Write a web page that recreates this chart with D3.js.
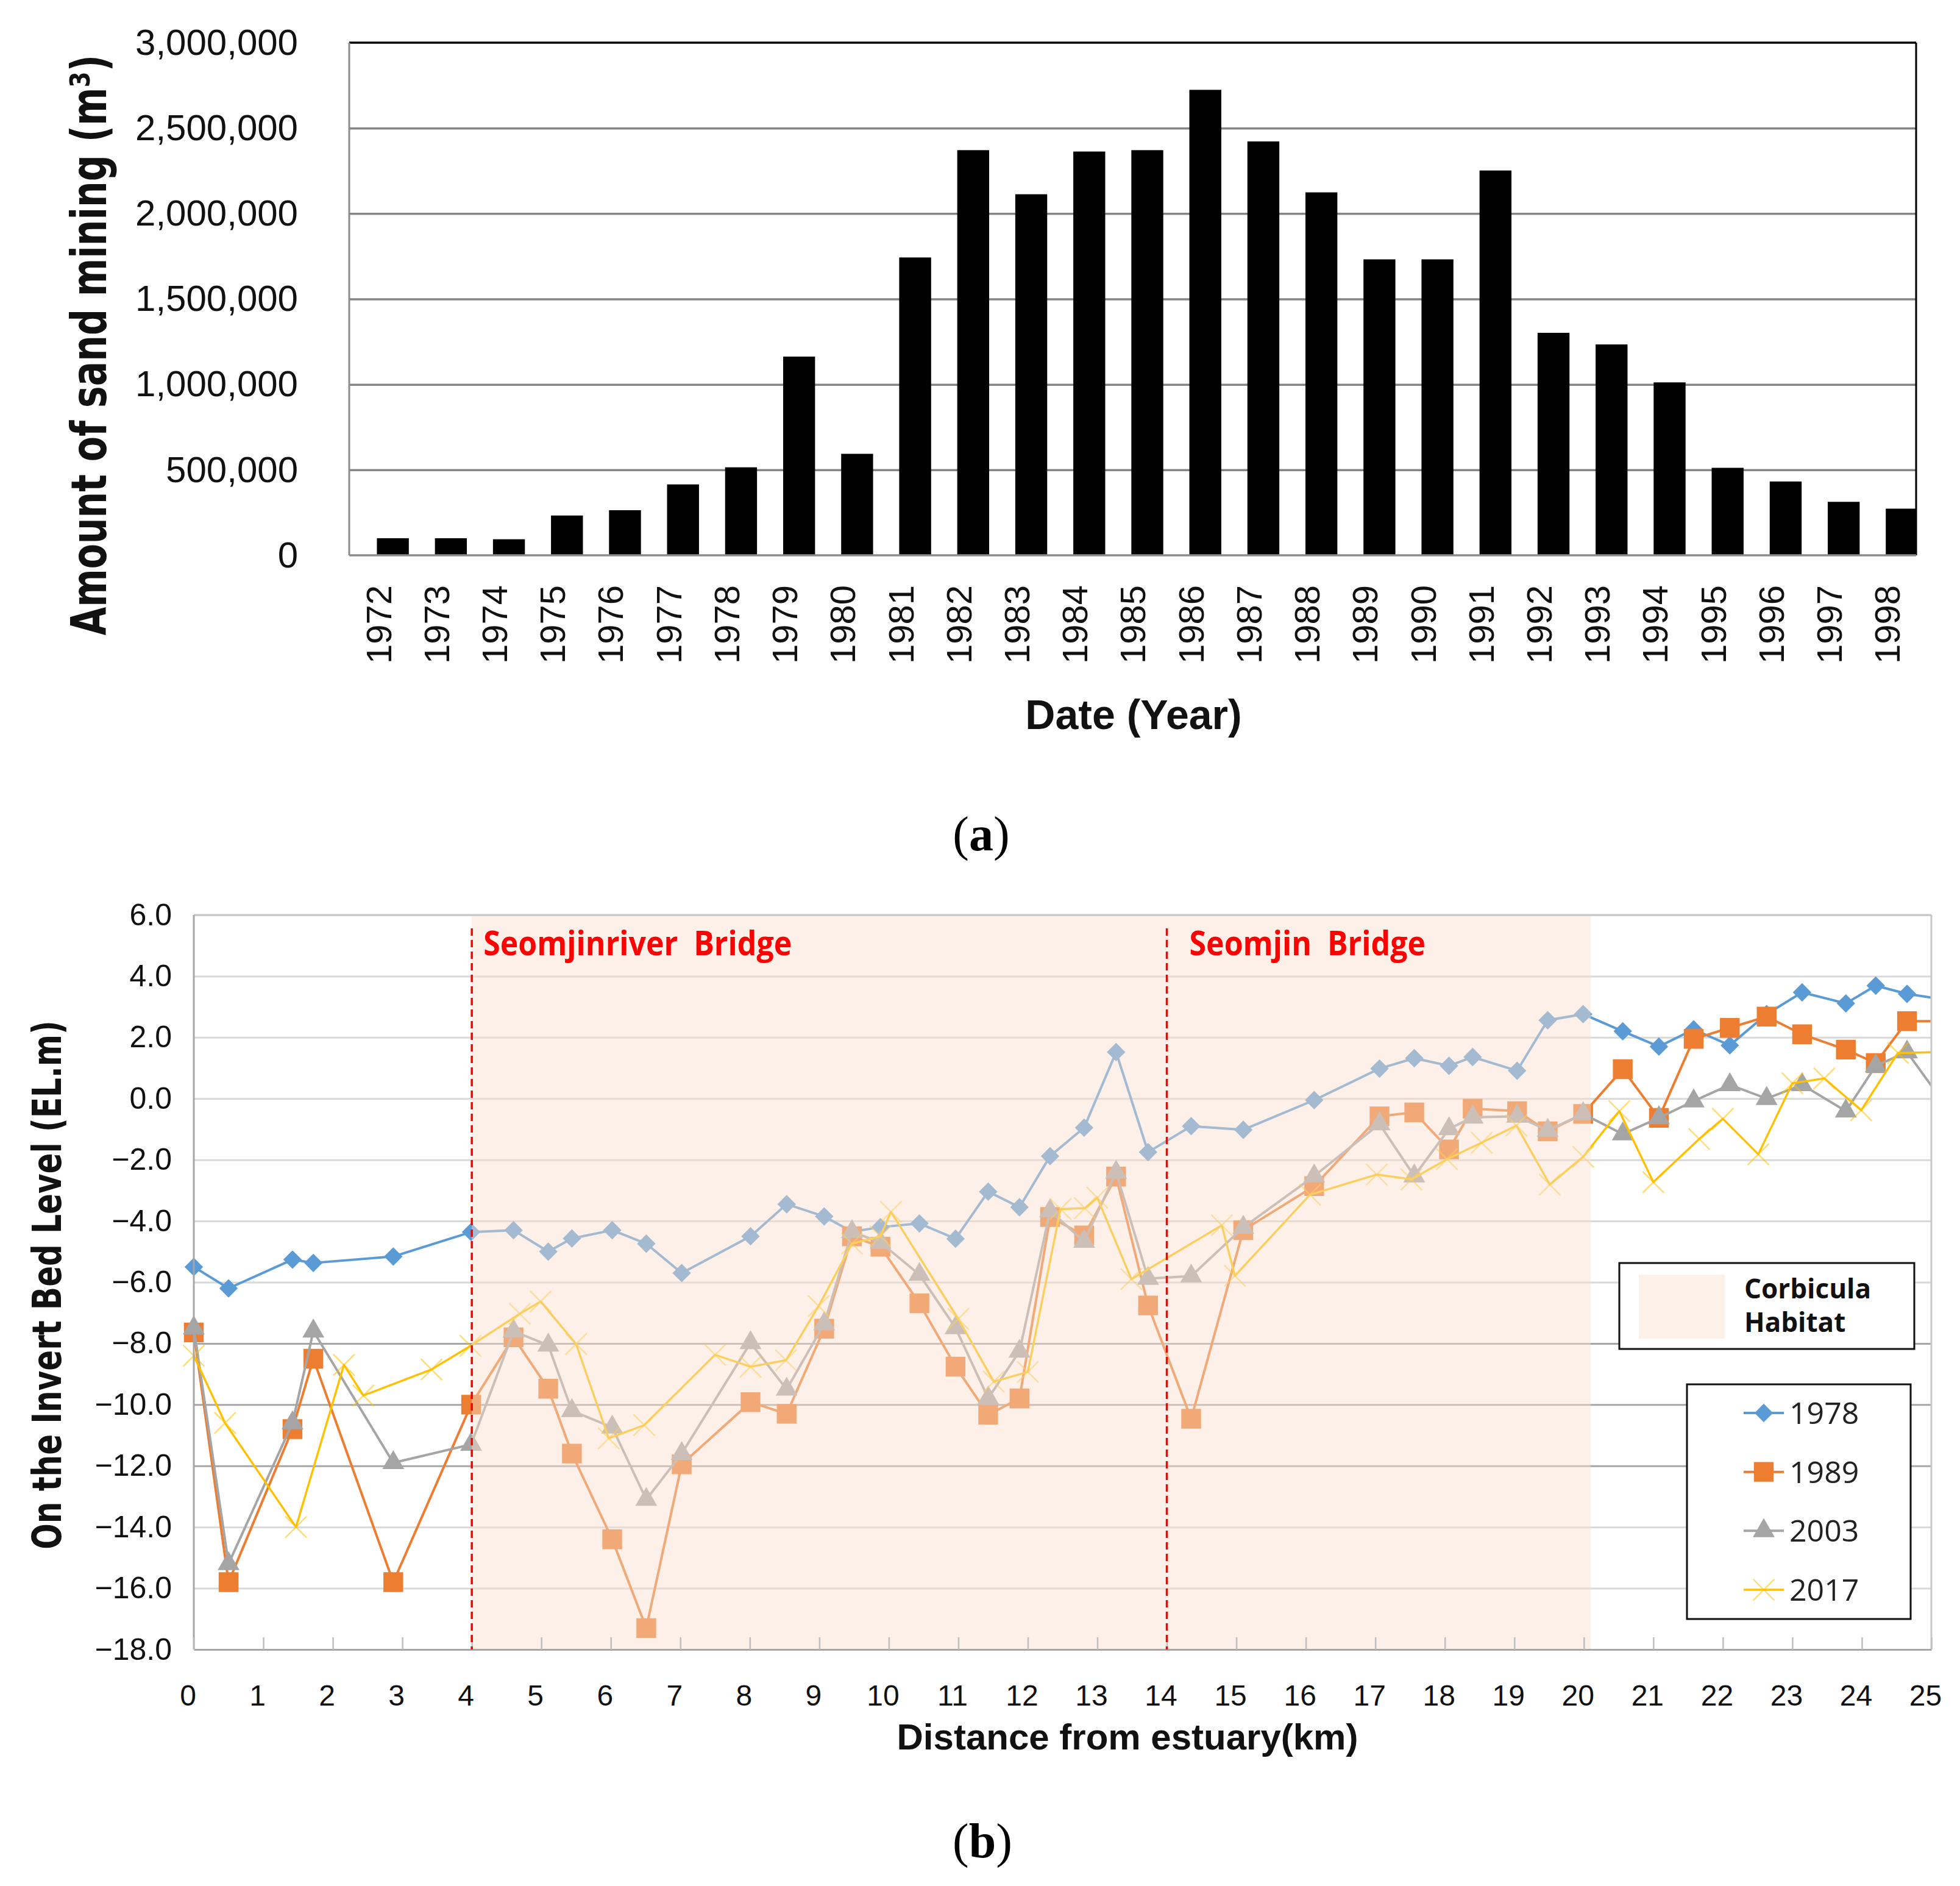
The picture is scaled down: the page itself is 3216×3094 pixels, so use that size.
<!DOCTYPE html>
<html>
<head>
<meta charset="utf-8">
<title>Sand mining and invert bed level</title>
<script src="https://cdn.jsdelivr.net/npm/d3@7/dist/d3.min.js"></script>
<style>
  body { margin: 0; background: #fff; }
  svg { display: block; }
  text { white-space: pre; }
</style>
</head>
<body>
<svg id="figure" width="3216" height="3094"></svg>
<script>
// (a) amount of sand mining per year (m3)
const years = ['1972', '1973', '1974', '1975', '1976', '1977', '1978', '1979', '1980',
  '1981', '1982', '1983', '1984', '1985', '1986', '1987', '1988', '1989', '1990',
  '1991', '1992', '1993', '1994', '1995', '1996', '1997', '1998'];
const sandMining = [100000, 100000, 94000, 233000, 264000, 415000, 515000, 1163000, 594000,
  1743000, 2371000, 2113000, 2363000, 2371000, 2724000, 2422000, 2124000, 1732000, 1732000,
  2252000, 1302000, 1234000, 1012000, 512000, 432000, 313000, 273000];
const sandTicks = [0, 500000, 1000000, 1500000, 2000000, 2500000, 3000000];

// (b) invert bed level (EL.m) against distance from the estuary (km)
const stations = [0, 0.5, 1.42, 1.72, 2.87, 3.99, 4.6, 5.1, 5.44, 6.02, 6.51, 7.02, 8.01,
  8.53, 9.07, 9.47, 9.88, 10.44, 10.96, 11.43, 11.88, 12.32, 12.81, 13.27, 13.73, 14.35,
  15.1, 16.12, 17.06, 17.56, 18.06, 18.4, 19.04, 19.48, 19.99, 20.56, 21.08, 21.58, 22.1,
  22.63, 23.14, 23.77, 24.2, 24.65, 25.15];
const bed1978 = [-5.5, -6.2, -5.26, -5.37, -5.16, -4.36, -4.3, -5.0, -4.57, -4.3, -4.74,
  -5.7, -4.5, -3.45, -3.85, -4.35, -4.2, -4.08, -4.58, -3.04, -3.55, -1.88, -0.95, 1.52,
  -1.75, -0.9, -1.02, -0.05, 0.98, 1.32, 1.07, 1.36, 0.91, 2.56, 2.76, 2.2, 1.7, 2.26,
  1.74, 2.76, 3.47, 3.11, 3.69, 3.42, 3.25];
const bed1989 = [-7.64, -15.8, -10.8, -8.5, -15.8, -10.0, -7.8, -9.48, -11.6, -14.4, -17.3,
  -11.95, -9.92, -10.3, -7.52, -4.5, -4.84, -6.69, -8.76, -10.33, -9.8, -3.87, -4.47,
  -2.55, -6.76, -10.46, -4.3, -2.86, -0.58, -0.45, -1.66, -0.33, -0.41, -1.07, -0.5, 0.96,
  -0.63, 1.95, 2.31, 2.68, 2.1, 1.6, 1.16, 2.53, 2.53];
const bed2003 = [-7.5, -15.2, -10.6, -7.6, -11.9, -11.3, -7.6, -8.06, -10.2, -10.74, -13.1,
  -11.6, -7.98, -9.5, -7.36, -4.35, -4.7, -5.75, -7.49, -9.79, -8.26, -3.67, -4.67, -2.41,
  -5.88, -5.8, -4.21, -2.53, -0.83, -2.53, -0.99, -0.61, -0.58, -1.04, -0.5, -1.16, -0.63,
  -0.08, 0.45, 0.0, 0.45, -0.41, 1.07, 1.52, -0.05];
const stations2017 = [0, 0.45, 1.47, 2.16, 2.44, 3.42, 3.98, 4.69, 4.99, 5.5, 5.97, 6.48,
  7.5, 8.01, 8.52, 8.99, 9.47, 9.88, 10.03, 11.0, 11.51, 12.0, 12.47, 12.82, 13.0, 13.49,
  14.79, 14.98, 16.06, 17.02, 17.52, 18.03, 18.53, 19.03, 19.51, 19.99, 20.51, 21.0, 21.66,
  22.0, 22.51, 23.0, 23.46, 23.99, 24.52, 25.15];
const bed2017 = [-8.4, -10.6, -14.0, -8.7, -9.7, -8.85, -8.08, -7.03, -6.63, -8.02, -11.1,
  -10.67, -8.37, -8.76, -8.55, -6.78, -4.74, -4.5, -3.7, -7.2, -9.25, -8.93, -3.61, -3.58,
  -3.24, -5.9, -4.14, -5.79, -3.14, -2.48, -2.64, -1.98, -1.44, -0.88, -2.81, -1.9, -0.41,
  -2.73, -1.32, -0.66, -1.82, 0.5, 0.66, -0.38, 1.49, 1.52];
const surveyYears = ['1978', '1989', '2003', '2017'];
const bedTicks = [6, 4, 2, 0, -2, -4, -6, -8, -10, -12, -14, -16, -18];
const kmTicks = [0, 1, 2, 3, 4, 5, 6, 7, 8, 9, 10, 11, 12, 13, 14, 15, 16, 17, 18, 19, 20,
  21, 22, 23, 24, 25];
const bridgeNames = ['Seomjinriver  Bridge', 'Seomjin  Bridge'];
const bridgeKm = [4, 14];
const habitatKm = [4, 20.1];
const habitatLabel = ['Corbicula', 'Habitat'];

const svg = d3.select('#figure');
svg.append('rect').attr('width', 3216).attr('height', 3094).attr('fill', '#fff');

const SANS = "'Liberation Sans', Arial, sans-serif";
const WIDE = "'DejaVu Sans', Verdana, sans-serif";
const OPEN = "'Open Sans', 'Liberation Sans', sans-serif";
const SERIF = "'Liberation Serif', 'Times New Roman', serif";

/* ---------------- (a) bar chart ---------------- */
const boxA = { left: 573, right: 3144, top: 70, bottom: 911 };

const x = d3.scaleBand()
  .domain(years)
  .range([boxA.left, boxA.right])
  .paddingInner(0.45)
  .paddingOuter(0.225);
const y = d3.scaleLinear().domain([0, 3000000]).range([boxA.bottom, boxA.top]);

svg.append('defs').append('clipPath').attr('id', 'clip-a')
  .append('rect')
  .attr('x', 0).attr('y', 0)
  .attr('width', boxA.right).attr('height', 3094);

// gridlines
svg.append('g')
  .attr('transform', `translate(${boxA.left},0)`)
  .call(d3.axisLeft(y)
    .tickValues(sandTicks.slice(1, -1))
    .tickSize(-(boxA.right - boxA.left))
    .tickFormat(''))
  .call(g => g.select('.domain').remove())
  .call(g => g.selectAll('line').attr('stroke', '#858585').attr('stroke-width', 3.5));

// bars sit a little right of the category centre, as in the original
const barShift = 24;
svg.append('g')
  .attr('clip-path', 'url(#clip-a)')
  .selectAll('rect')
  .data(years)
  .join('rect')
  .attr('x', d => x(d) + barShift)
  .attr('y', (d, i) => y(sandMining[i]))
  .attr('width', x.bandwidth())
  .attr('height', (d, i) => y(0) - y(sandMining[i]))
  .attr('fill', '#000');

// frame
const frameA = svg.append('g').attr('fill', 'none');
frameA.append('line')
  .attr('x1', boxA.left).attr('x2', boxA.right)
  .attr('y1', y(3000000)).attr('y2', y(3000000))
  .attr('stroke', '#000').attr('stroke-width', 3.5);
frameA.append('line')
  .attr('x1', boxA.right).attr('x2', boxA.right)
  .attr('y1', boxA.top).attr('y2', boxA.bottom)
  .attr('stroke', '#000').attr('stroke-width', 3);
frameA.append('line')
  .attr('x1', boxA.left).attr('x2', boxA.left)
  .attr('y1', boxA.top).attr('y2', boxA.bottom)
  .attr('stroke', '#8c8c8c').attr('stroke-width', 3);
frameA.append('line')
  .attr('x1', boxA.left).attr('x2', boxA.right)
  .attr('y1', y(0)).attr('y2', y(0))
  .attr('stroke', '#8c8c8c').attr('stroke-width', 3.5);

// y tick labels
svg.append('g')
  .attr('transform', `translate(${boxA.left},0)`)
  .call(d3.axisLeft(y)
    .tickValues(sandTicks)
    .tickFormat(d3.format(','))
    .tickSize(0)
    .tickPadding(84))
  .call(g => g.select('.domain').remove())
  .call(g => g.selectAll('text')
    .attr('font-family', SANS)
    .attr('font-size', 60)
    .attr('fill', '#111'));

// x tick labels, vertical
svg.append('g')
  .attr('transform', `translate(0,960)`)
  .call(d3.axisBottom(x).tickSize(0))
  .call(g => g.select('.domain').remove())
  .call(g => g.selectAll('text')
    .attr('font-family', SANS)
    .attr('font-size', 58)
    .attr('fill', '#111')
    .attr('text-anchor', 'end')
    .attr('x', 0)
    .attr('y', 0)
    .attr('dy', '0.36em')
    .attr('transform', 'rotate(-90)'));

svg.append('text')
  .attr('transform', 'translate(174,566) rotate(-90) scale(1,1.35)')
  .attr('text-anchor', 'middle')
  .attr('font-family', WIDE)
  .attr('font-weight', 'bold')
  .attr('font-size', 60)
  .attr('fill', '#111')
  .text('Amount of sand mining (m³)');

svg.append('text')
  .attr('x', 1860).attr('y', 1196)
  .attr('text-anchor', 'middle')
  .attr('font-family', SANS)
  .attr('font-weight', 'bold')
  .attr('font-size', 68)
  .attr('fill', '#111')
  .text('Date (Year)');

const panelA = svg.append('text')
  .attr('x', 1610).attr('y', 1395)
  .attr('text-anchor', 'middle')
  .attr('font-family', SERIF)
  .attr('font-size', 80)
  .attr('fill', '#000');
panelA.append('tspan').text('(');
panelA.append('tspan').attr('font-weight', 'bold').text('a');
panelA.append('tspan').text(')');

/* ---------------- (b) bed level profile ---------------- */
const boxB = { left: 318, right: 3169, top: 1501, bottom: 2706 };

const xb = d3.scaleLinear().domain([0, 25]).range([boxB.left, boxB.right]);
const yb = d3.scaleLinear().domain([-18, 6]).range([boxB.bottom, boxB.top]);

svg.select('defs').append('clipPath').attr('id', 'clip-b')
  .append('rect')
  .attr('x', 0).attr('y', 0)
  .attr('width', boxB.right).attr('height', 3094);

const darkGrid = [-8, -10, -12];
svg.append('g')
  .attr('transform', `translate(${boxB.left},0)`)
  .call(d3.axisLeft(yb)
    .tickValues(bedTicks)
    .tickSize(-(boxB.right - boxB.left))
    .tickFormat(''))
  .call(g => g.select('.domain').remove())
  .call(g => g.selectAll('.tick line')
    .attr('stroke', d => darkGrid.includes(d) ? '#a6a6a6' : '#d9d9d9')
    .attr('stroke-width', 3));

const palette = ['#5b9bd5', '#ed7d31', '#a5a5a5', '#ffc000'];
const markers = ['diamond', 'square', 'triangle', 'cross'];

const crossType = d3.symbolTimes || d3.symbolX;
const markerPath = {
  diamond: d3.symbol(d3.symbolSquare, 460)(),
  square: d3.symbol(d3.symbolSquare, 1050)(),
  triangle: d3.symbol(d3.symbolTriangle, 560)(),
  cross: crossType ? d3.symbol(crossType, 800)() : 'M-17,-17L17,17M-17,17L17,-17',
};

const series = [
  d3.zip(stations, bed1978),
  d3.zip(stations, bed1989),
  d3.zip(stations, bed2003),
  d3.zip(stations2017, bed2017),
];

const line = d3.line()
  .x(d => xb(d[0]))
  .y(d => yb(d[1]));

const drawMarker = function (sel, kind, color) {
  sel.attr('d', markerPath[kind]);
  if (kind === 'cross') {
    sel.attr('fill', 'none')
      .attr('stroke', color)
      .attr('stroke-width', 2.4)
      .attr('stroke-opacity', 0.55);
  } else {
    sel.attr('fill', color).attr('stroke', 'none');
  }
};

const plotB = svg.append('g').attr('clip-path', 'url(#clip-b)');
series.forEach((pts, i) => {
  const g = plotB.append('g').attr('class', `series-${surveyYears[i]}`);
  g.append('path')
    .datum(pts)
    .attr('d', line)
    .attr('fill', 'none')
    .attr('stroke', palette[i])
    .attr('stroke-width', i === 3 ? 3.4 : 4)
    .attr('stroke-linejoin', 'round');
  g.selectAll('path.marker')
    .data(pts)
    .join('path')
    .attr('class', 'marker')
    .attr('transform', d => `translate(${xb(d[0])},${yb(d[1])})${markers[i] === 'diamond' ? ' rotate(45)' : ''}`)
    .call(drawMarker, markers[i], palette[i]);
});

// corbicula habitat: a pale wash laid over the survey lines
const habitatFill = 'rgb(248,222,205)';
const habitatOpacity = 0.46;
svg.append('rect')
  .attr('x', xb(habitatKm[0]))
  .attr('y', boxB.top)
  .attr('width', xb(habitatKm[1]) - xb(habitatKm[0]))
  .attr('height', boxB.bottom - boxB.top)
  .attr('fill', habitatFill)
  .attr('fill-opacity', habitatOpacity);

// frame and ticks
const frameB = svg.append('g');
frameB.append('line')
  .attr('x1', boxB.left).attr('x2', boxB.right)
  .attr('y1', boxB.top).attr('y2', boxB.top)
  .attr('stroke', '#c8c8c8').attr('stroke-width', 3);
frameB.append('line')
  .attr('x1', boxB.right).attr('x2', boxB.right)
  .attr('y1', boxB.top).attr('y2', boxB.bottom)
  .attr('stroke', '#c8c8c8').attr('stroke-width', 3);
frameB.append('line')
  .attr('x1', boxB.left).attr('x2', boxB.left)
  .attr('y1', boxB.top).attr('y2', boxB.bottom)
  .attr('stroke', '#a6a6a6').attr('stroke-width', 3);

svg.append('g')
  .attr('transform', `translate(0,${boxB.bottom})`)
  .call(d3.axisBottom(xb)
    .tickValues(kmTicks)
    .tickSizeInner(-20)
    .tickSizeOuter(0)
    .tickFormat(''))
  .call(g => g.select('.domain').attr('stroke', '#a6a6a6').attr('stroke-width', 3))
  .call(g => g.selectAll('.tick line').attr('stroke', '#bfbfbf').attr('stroke-width', 2.5));

svg.append('g')
  .attr('transform', `translate(0,${boxB.bottom})`)
  .call(d3.axisBottom(xb)
    .tickValues(kmTicks)
    .tickSize(0)
    .tickPadding(58)
    .tickFormat(d3.format('d')))
  .call(g => g.select('.domain').remove())
  .call(g => g.selectAll('text')
    .attr('font-family', SANS)
    .attr('font-size', 48)
    .attr('fill', '#111')
    .attr('dx', -10));

svg.append('g')
  .attr('transform', `translate(${boxB.left},0)`)
  .call(d3.axisLeft(yb)
    .tickValues(bedTicks)
    .tickFormat(d3.format('.1f'))
    .tickSize(0)
    .tickPadding(36))
  .call(g => g.select('.domain').remove())
  .call(g => g.selectAll('text')
    .attr('font-family', SANS)
    .attr('font-size', 50)
    .attr('fill', '#111'));

// bridges
bridgeKm.forEach((km, i) => {
  svg.append('line')
    .attr('x1', xb(km)).attr('x2', xb(km))
    .attr('y1', yb(6) + 22).attr('y2', boxB.bottom)
    .attr('stroke', '#ff0000')
    .attr('stroke-width', 3.5)
    .attr('stroke-dasharray', '12 7');
  svg.append('text')
    .attr('transform', `translate(${xb(km) + (i === 0 ? 19 : 37)},1567) scale(1,1.12)`)
    .attr('font-family', OPEN)
    .attr('font-weight', 'bold')
    .attr('font-size', 50)
    .attr('fill', '#ff0000')
    .text(bridgeNames[i]);
});

svg.append('text')
  .attr('transform', 'translate(100,2108) rotate(-90) scale(1,1.3)')
  .attr('text-anchor', 'middle')
  .attr('font-family', WIDE)
  .attr('font-weight', 'bold')
  .attr('font-size', 50)
  .attr('fill', '#111')
  .text('On the Invert Bed Level (EL.m)');

svg.append('text')
  .attr('x', 1850).attr('y', 2870)
  .attr('text-anchor', 'middle')
  .attr('font-family', SANS)
  .attr('font-weight', 'bold')
  .attr('font-size', 60)
  .attr('fill', '#111')
  .text('Distance from estuary(km)');

// habitat legend
const habLegend = svg.append('g');
habLegend.append('rect')
  .attr('x', 2657).attr('y', 2072)
  .attr('width', 484).attr('height', 141)
  .attr('fill', '#fff')
  .attr('stroke', '#111').attr('stroke-width', 3);
habLegend.append('rect')
  .attr('x', 2689).attr('y', 2091)
  .attr('width', 141).attr('height', 105)
  .attr('fill', habitatFill)
  .attr('fill-opacity', habitatOpacity);
habLegend.selectAll('text.hab')
  .data(habitatLabel)
  .join('text')
  .attr('class', 'hab')
  .attr('x', 2862)
  .attr('y', (d, i) => 2130 + i * 55)
  .attr('font-family', OPEN)
  .attr('font-weight', 'bold')
  .attr('font-size', 44)
  .attr('fill', '#111')
  .text(d => d);

// series legend
const legend = svg.append('g');
legend.append('rect')
  .attr('x', 2768).attr('y', 2271)
  .attr('width', 367).attr('height', 385)
  .attr('fill', '#fff')
  .attr('stroke', '#111').attr('stroke-width', 3);
const rowY = d3.scalePoint().domain(surveyYears).range([2318, 2608]);
surveyYears.forEach((name, i) => {
  const ry = rowY(name);
  legend.append('line')
    .attr('x1', 2861).attr('x2', 2927)
    .attr('y1', ry).attr('y2', ry)
    .attr('stroke', palette[i])
    .attr('stroke-width', i === 3 ? 3.4 : 4);
  legend.append('path')
    .attr('transform', `translate(2894,${ry})${markers[i] === 'diamond' ? ' rotate(45)' : ''}`)
    .call(drawMarker, markers[i], palette[i]);
  legend.append('text')
    .attr('x', 2936).attr('y', ry)
    .attr('dy', '0.36em')
    .attr('font-family', OPEN)
    .attr('font-size', 50)
    .attr('fill', '#222')
    .text(name);
});

const panelB = svg.append('text')
  .attr('x', 1612).attr('y', 3047)
  .attr('text-anchor', 'middle')
  .attr('font-family', SERIF)
  .attr('font-size', 80)
  .attr('fill', '#000');
panelB.append('tspan').text('(');
panelB.append('tspan').attr('font-weight', 'bold').text('b');
panelB.append('tspan').text(')');
</script>
</body>
</html>
